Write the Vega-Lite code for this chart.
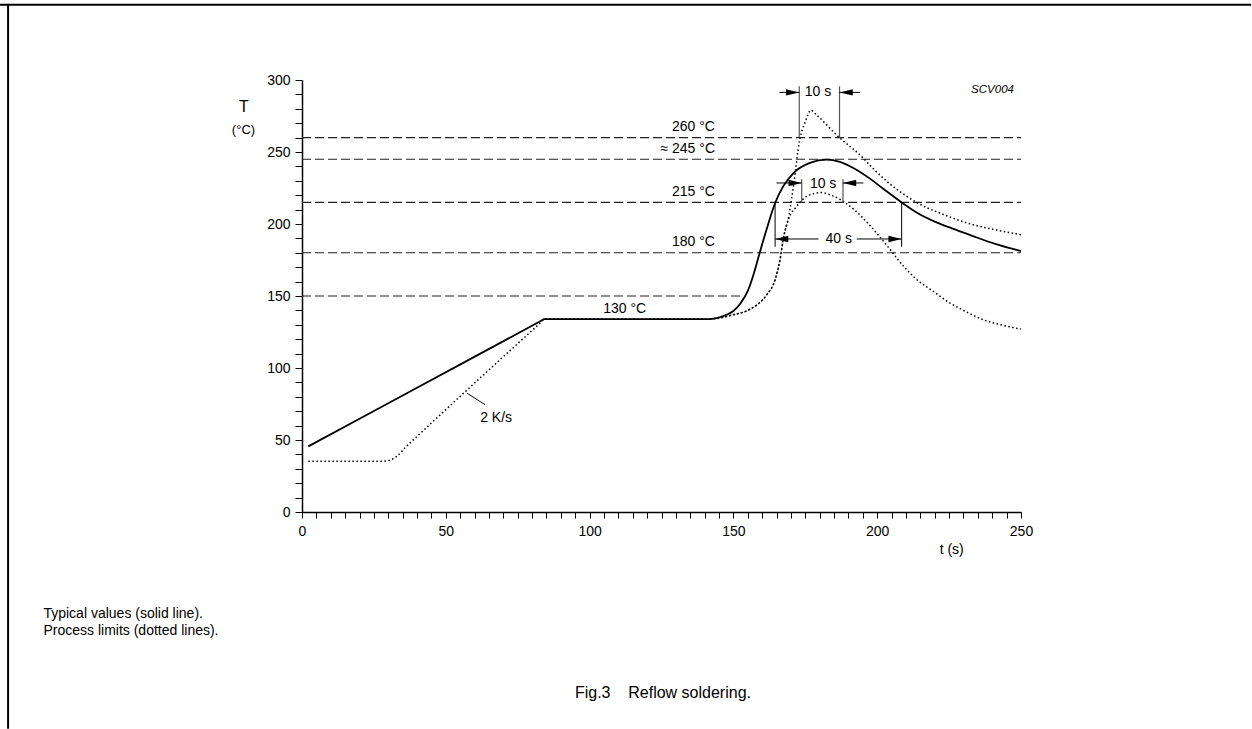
{
  "$schema": "https://vega.github.io/schema/vega-lite/v6.json",
  "width": 719,
  "height": 432,
  "autosize": {"type": "none"},
  "padding": {"left": 302, "top": 80, "right": 231, "bottom": 217},
  "background": "white",
  "config": {"view": {"stroke": null}, "font": "Liberation Sans"},
  "datasets": {
    "curves": [
      {"s": "typical", "t": 2.2, "T": 45.6},
      {"s": "typical", "t": 40, "T": 86.3},
      {"s": "typical", "t": 83, "T": 132.6},
      {"s": "typical", "t": 84.3, "T": 134},
      {"s": "typical", "t": 90, "T": 134},
      {"s": "typical", "t": 120, "T": 134},
      {"s": "typical", "t": 141.9, "T": 134},
      {"s": "typical", "t": 145.1, "T": 135.2},
      {"s": "typical", "t": 148, "T": 137.3},
      {"s": "typical", "t": 150, "T": 139.6},
      {"s": "typical", "t": 152.5, "T": 145},
      {"s": "typical", "t": 155, "T": 153.5},
      {"s": "typical", "t": 157, "T": 165},
      {"s": "typical", "t": 159, "T": 179},
      {"s": "typical", "t": 161.5, "T": 196},
      {"s": "typical", "t": 164.5, "T": 214.6},
      {"s": "typical", "t": 167.3, "T": 226.1},
      {"s": "typical", "t": 170.9, "T": 235.4},
      {"s": "typical", "t": 176.6, "T": 242.4},
      {"s": "typical", "t": 182.4, "T": 244.7},
      {"s": "typical", "t": 187, "T": 243.2},
      {"s": "typical", "t": 192, "T": 238.6},
      {"s": "typical", "t": 197, "T": 232.2},
      {"s": "typical", "t": 202, "T": 224.6},
      {"s": "typical", "t": 208.5, "T": 215},
      {"s": "typical", "t": 214, "T": 207.6},
      {"s": "typical", "t": 220, "T": 201.6},
      {"s": "typical", "t": 226, "T": 196.9},
      {"s": "typical", "t": 233, "T": 191.8},
      {"s": "typical", "t": 241, "T": 186.2},
      {"s": "typical", "t": 250, "T": 181.2},

      {"s": "lower", "t": 2.2, "T": 35.2},
      {"s": "lower", "t": 15, "T": 35.2},
      {"s": "lower", "t": 28, "T": 35.3},
      {"s": "lower", "t": 30.5, "T": 36},
      {"s": "lower", "t": 33, "T": 38.8},
      {"s": "lower", "t": 36, "T": 45},
      {"s": "lower", "t": 40, "T": 52.5},
      {"s": "lower", "t": 62, "T": 93.2},
      {"s": "lower", "t": 83, "T": 131.6},
      {"s": "lower", "t": 84.3, "T": 134},
      {"s": "lower", "t": 90, "T": 134},
      {"s": "lower", "t": 141.9, "T": 134},
      {"s": "lower", "t": 150, "T": 137},
      {"s": "lower", "t": 155.8, "T": 140.8},
      {"s": "lower", "t": 161.6, "T": 150.9},
      {"s": "lower", "t": 164.5, "T": 161.3},
      {"s": "lower", "t": 166.2, "T": 175.2},
      {"s": "lower", "t": 167.4, "T": 190.3},
      {"s": "lower", "t": 169.1, "T": 203},
      {"s": "lower", "t": 172, "T": 212.2},
      {"s": "lower", "t": 175.5, "T": 219.2},
      {"s": "lower", "t": 180.5, "T": 221.8},
      {"s": "lower", "t": 184, "T": 220},
      {"s": "lower", "t": 188.2, "T": 215.7},
      {"s": "lower", "t": 192, "T": 210},
      {"s": "lower", "t": 197, "T": 200},
      {"s": "lower", "t": 203, "T": 186},
      {"s": "lower", "t": 209, "T": 171},
      {"s": "lower", "t": 213.7, "T": 161.5},
      {"s": "lower", "t": 219.5, "T": 153.2},
      {"s": "lower", "t": 225.3, "T": 145.1},
      {"s": "lower", "t": 231, "T": 139},
      {"s": "lower", "t": 236.9, "T": 133.5},
      {"s": "lower", "t": 243, "T": 130},
      {"s": "lower", "t": 250, "T": 127},

      {"s": "upper", "t": 141.9, "T": 134},
      {"s": "upper", "t": 150, "T": 137},
      {"s": "upper", "t": 155.8, "T": 140.8},
      {"s": "upper", "t": 161.6, "T": 150.9},
      {"s": "upper", "t": 164.5, "T": 161.3},
      {"s": "upper", "t": 166.2, "T": 175.2},
      {"s": "upper", "t": 167.4, "T": 190.3},
      {"s": "upper", "t": 169.3, "T": 206},
      {"s": "upper", "t": 171, "T": 228},
      {"s": "upper", "t": 173, "T": 258},
      {"s": "upper", "t": 175, "T": 271},
      {"s": "upper", "t": 177, "T": 279},
      {"s": "upper", "t": 178.5, "T": 276.5},
      {"s": "upper", "t": 187, "T": 259.7},
      {"s": "upper", "t": 194, "T": 248},
      {"s": "upper", "t": 198.6, "T": 238.5},
      {"s": "upper", "t": 204, "T": 228.5},
      {"s": "upper", "t": 210.3, "T": 219.2},
      {"s": "upper", "t": 216, "T": 212.5},
      {"s": "upper", "t": 221.8, "T": 207.6},
      {"s": "upper", "t": 227.5, "T": 203.2},
      {"s": "upper", "t": 233.4, "T": 199.5},
      {"s": "upper", "t": 241, "T": 196},
      {"s": "upper", "t": 250, "T": 192.5}
    ],
    "levels": [
      {"t": 0, "t2": 250, "T": 260},
      {"t": 0, "t2": 250, "T": 245},
      {"t": 0, "t2": 250, "T": 215},
      {"t": 0, "t2": 250, "T": 180},
      {"t": 0, "t2": 153, "T": 150}
    ],
    "vgray": [
      {"t": 172.9, "T": 260, "T2": 295.6},
      {"t": 186.9, "T": 260, "T2": 295.6},
      {"t": 173.75, "T": 215, "T2": 231},
      {"t": 188.1, "T": 215, "T2": 231}
    ],
    "vblack": [
      {"t": 164.5, "T": 184.2, "T2": 215},
      {"t": 208.5, "T": 184.2, "T2": 215},
      {"t": 57.3, "T": 82.6, "t2": 63.7, "T2": 74.5}
    ],
    "shafts": [
      {"t": 166, "t2": 172.9, "T": 291.4},
      {"t": 186.9, "t2": 194, "T": 291.4},
      {"t": 165, "t2": 173.75, "T": 228.5},
      {"t": 188.1, "t2": 195.2, "T": 228.5},
      {"t": 164.5, "t2": 179.6, "T": 189.6},
      {"t": 192.9, "t2": 208.5, "T": 189.6}
    ],
    "headsR": [
      {"t": 172.9, "T": 291.4},
      {"t": 173.75, "T": 228.5},
      {"t": 208.5, "T": 189.6}
    ],
    "headsL": [
      {"t": 186.9, "T": 291.4},
      {"t": 188.1, "T": 228.5},
      {"t": 164.5, "T": 189.6}
    ],
    "frame": [
      {"t": -105, "t2": 330, "T": 352.3, "T2": 352.3},
      {"t": -102.2, "t2": -102.2, "T": 352.3, "T2": -150.5}
    ]
  },
  "encoding": {
    "x": {
      "field": "t", "type": "quantitative",
      "scale": {"domain": [0, 250], "nice": false, "zero": false},
      "axis": {
        "title": null, "grid": false,
        "values": [0,5,10,15,20,25,30,35,40,45,50,55,60,65,70,75,80,85,90,95,100,105,110,115,120,125,130,135,140,145,150,155,160,165,170,175,180,185,190,195,200,205,210,215,220,225,230,235,240,245,250],
        "labelExpr": "datum.value % 50 === 0 ? datum.label : ''",
        "labelOverlap": false, "labelFlush": false,
        "tickSize": 6, "tickColor": "black", "tickWidth": 1,
        "domainColor": "black", "domainWidth": 1.5,
        "labelFontSize": 14, "labelColor": "black", "labelPadding": 6,
        "labelFont": "Liberation Sans"
      }
    },
    "y": {
      "field": "T", "type": "quantitative",
      "scale": {"domain": [0, 300], "nice": false, "zero": false},
      "axis": {
        "title": null, "grid": false,
        "values": [0,10,20,30,40,50,60,70,80,90,100,110,120,130,140,150,160,170,180,190,200,210,220,230,240,250,260,270,280,290,300],
        "labelExpr": "datum.value % 50 === 0 ? datum.label : ''",
        "labelOverlap": false, "labelFlush": false,
        "tickSize": 7, "tickColor": "black", "tickWidth": 1,
        "domainColor": "black", "domainWidth": 1.5,
        "labelFontSize": 14, "labelColor": "black", "labelPadding": 5,
        "labelFont": "Liberation Sans"
      }
    }
  },
  "layer": [
    {
      "data": {"name": "levels"},
      "mark": {"type": "rule", "color": "#222", "strokeWidth": 1.1, "strokeDash": [9, 4]},
      "encoding": {"x2": {"field": "t2"}}
    },
    {
      "data": {"name": "curves"},
      "transform": [{"filter": "datum.s === 'lower'"}],
      "mark": {"type": "line", "interpolate": "monotone", "color": "black", "strokeWidth": 1.5, "strokeDash": [1.5, 2.5]}
    },
    {
      "data": {"name": "curves"},
      "transform": [{"filter": "datum.s === 'upper'"}],
      "mark": {"type": "line", "interpolate": "monotone", "color": "black", "strokeWidth": 1.5, "strokeDash": [1.5, 2.5]}
    },
    {
      "data": {"name": "curves"},
      "transform": [{"filter": "datum.s === 'typical'"}],
      "mark": {"type": "line", "interpolate": "monotone", "color": "black", "strokeWidth": 1.8}
    },
    {
      "data": {"name": "vgray"},
      "mark": {"type": "rule", "color": "#555", "strokeWidth": 1.2},
      "encoding": {"y2": {"field": "T2"}}
    },
    {
      "data": {"name": "vblack"},
      "mark": {"type": "rule", "color": "black", "strokeWidth": 1},
      "encoding": {"x2": {"field": "t2"}, "y2": {"field": "T2"}}
    },
    {
      "data": {"name": "shafts"},
      "mark": {"type": "rule", "color": "black", "strokeWidth": 1},
      "encoding": {"x2": {"field": "t2"}}
    },
    {
      "data": {"name": "headsR"},
      "mark": {"type": "point", "shape": "M0,0L-1,-0.24L-1,0.24Z", "filled": true, "color": "black", "opacity": 1, "size": 700, "strokeWidth": 0}
    },
    {
      "data": {"name": "headsL"},
      "mark": {"type": "point", "shape": "M0,0L1,-0.24L1,0.24Z", "filled": true, "color": "black", "opacity": 1, "size": 700, "strokeWidth": 0}
    },
    {
      "data": {"name": "frame"},
      "mark": {"type": "rule", "color": "black", "strokeWidth": 2},
      "encoding": {"x2": {"field": "t2"}, "y2": {"field": "T2"}}
    },
    {
      "data": {"values": [
        {"label": "260 °C", "t": 143.6, "T": 260},
        {"label": "≈ 245 °C", "t": 143.6, "T": 245},
        {"label": "215 °C", "t": 143.6, "T": 215},
        {"label": "180 °C", "t": 143.6, "T": 180}
      ]},
      "mark": {"type": "text", "align": "right", "baseline": "middle", "dy": -10.5, "fontSize": 14, "color": "black", "font": "Liberation Sans"},
      "encoding": {"text": {"field": "label"}}
    },
    {
      "data": {"values": [
        {"label": "130 °C", "t": 112.2, "T": 134}
      ]},
      "mark": {"type": "text", "align": "center", "baseline": "middle", "dy": -10, "fontSize": 14, "color": "black", "font": "Liberation Sans"},
      "encoding": {"text": {"field": "label"}}
    },
    {
      "data": {"values": [
        {"label": "10 s", "t": 179.4, "T": 291.4},
        {"label": "10 s", "t": 181.2, "T": 227.8},
        {"label": "40 s", "t": 186.6, "T": 189.6},
        {"label": "2 K/s", "t": 67.5, "T": 65.5},
        {"label": "t (s)", "t": 225.9, "T": -26.2}
      ]},
      "mark": {"type": "text", "align": "center", "baseline": "middle", "fontSize": 14, "color": "black", "font": "Liberation Sans"},
      "encoding": {"text": {"field": "label"}}
    },
    {
      "data": {"values": [
        {"label": "SCV004", "t": 240.1, "T": 293.3}
      ]},
      "mark": {"type": "text", "align": "center", "baseline": "middle", "fontSize": 11.5, "fontStyle": "italic", "color": "black", "font": "Liberation Sans"},
      "encoding": {"text": {"field": "label"}}
    },
    {
      "data": {"values": [
        {"label": "T", "t": -20.2, "T": 281.4}
      ]},
      "mark": {"type": "text", "align": "center", "baseline": "middle", "fontSize": 16, "color": "black", "font": "Liberation Sans"},
      "encoding": {"text": {"field": "label"}}
    },
    {
      "data": {"values": [
        {"label": "(°C)", "t": -16.3, "T": 265}
      ]},
      "mark": {"type": "text", "align": "right", "baseline": "middle", "fontSize": 13, "color": "black", "font": "Liberation Sans"},
      "encoding": {"text": {"field": "label"}}
    },
    {
      "data": {"values": [
        {"label": "Typical values (solid line).", "t": -89.9, "T": -70.6},
        {"label": "Process limits (dotted lines).", "t": -89.9, "T": -82.9}
      ]},
      "mark": {"type": "text", "align": "left", "baseline": "middle", "fontSize": 14, "color": "black", "font": "Liberation Sans"},
      "encoding": {"text": {"field": "label"}}
    },
    {
      "data": {"values": [
        {"label": "Fig.3\u00a0\u00a0\u00a0\u00a0Reflow soldering.", "t": 125.5, "T": -125.5}
      ]},
      "mark": {"type": "text", "align": "center", "baseline": "middle", "fontSize": 16, "color": "black", "font": "Liberation Sans"},
      "encoding": {"text": {"field": "label"}}
    }
  ]
}
